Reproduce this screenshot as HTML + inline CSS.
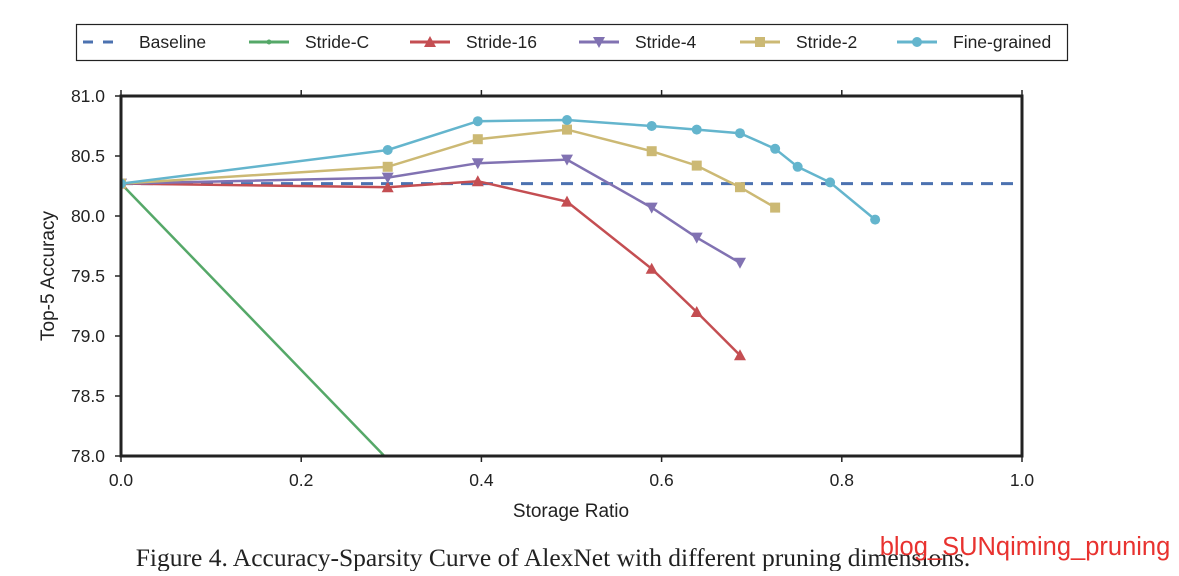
<!DOCTYPE html>
<html><head><meta charset="utf-8"><style>
body{margin:0;background:#fff;width:1179px;height:571px;overflow:hidden}
svg text{font-family:"Liberation Sans",sans-serif;fill:#222}
</style></head><body>
<svg id="chart" width="1179" height="571" xmlns="http://www.w3.org/2000/svg">
<g id="legend">
<rect x="76.5" y="24.5" width="991" height="36" fill="#fff" stroke="#222" stroke-width="1.2"/>
</g>
<g id="grid"></g>
<g id="series"></g>
<rect x="121" y="96" width="901" height="360" fill="none" stroke="#222" stroke-width="3"/>
<text x="571" y="517" text-anchor="middle" font-size="19">Storage Ratio</text>
<text x="0" y="0" text-anchor="middle" font-size="19" transform="translate(54,276) rotate(-90)">Top-5 Accuracy</text>
<text x="553" y="566" text-anchor="middle" font-size="25.5" style="font-family:'Liberation Serif',serif">Figure 4. Accuracy-Sparsity Curve of AlexNet with different pruning dimensions.</text>
<text x="1025" y="555" text-anchor="middle" font-size="25.5" style="fill:#e8322f">blog_SUNqiming_pruning</text>
</svg>
<script>
const xTicks=[0,0.2,0.4,0.6,0.8,1.0];
const yTicks=[78.0,78.5,79.0,79.5,80.0,80.5,81.0];
const baseline=80.27;
const fineX=[0,0.296,0.396,0.495,0.589,0.639,0.687,0.726,0.751,0.787,0.837];
const fineY=[80.27,80.55,80.79,80.80,80.75,80.72,80.69,80.56,80.41,80.28,79.97];
const s2X=[0,0.296,0.396,0.495,0.589,0.639,0.687,0.726];
const s2Y=[80.27,80.41,80.64,80.72,80.54,80.42,80.24,80.07];
const s4X=[0,0.296,0.396,0.495,0.589,0.639,0.687];
const s4Y=[80.27,80.32,80.44,80.47,80.07,79.82,79.61];
const s16X=[0,0.296,0.396,0.495,0.589,0.639,0.687];
const s16Y=[80.27,80.24,80.29,80.12,79.56,79.20,78.84];
const sCX=[0,0.3];
const sCY=[80.27,77.94];
const NS="http://www.w3.org/2000/svg";
const X=v=>121+901*v, Y=v=>456-(v-78)*120;
function mk(t,a,p){const e=document.createElementNS(NS,t);for(const k in a)e.setAttribute(k,a[k]);p.appendChild(e);return e;}
const grid=document.getElementById('grid');
xTicks.forEach(t=>{
 const l=mk('line',{x1:X(t),x2:X(t),y1:456,y2:462,stroke:'#222','stroke-width':1.5},grid);
 
 
 const l2=mk('line',{x1:X(t),x2:X(t),y1:90,y2:96,stroke:'#222','stroke-width':1.5},grid);
 
 
 const tx=mk('text',{x:X(t),y:486,'text-anchor':'middle','font-size':17.5},grid);tx.textContent=t.toFixed(1);
 
 
});
yTicks.forEach(t=>{
 const l=mk('line',{x1:115,x2:121,y1:Y(t),y2:Y(t),stroke:'#222','stroke-width':1.5},grid);
 
 
 const tx=mk('text',{x:105,y:Y(t)+6,'text-anchor':'end','font-size':17.5},grid);tx.textContent=t.toFixed(1);
 
 
});
const S=document.getElementById('series');
mk('clipPath',{id:'cp'},S).appendChild(document.createElementNS(NS,'rect'));
const cr=S.querySelector('#cp rect');cr.setAttribute('x',121);cr.setAttribute('y',96);cr.setAttribute('width',901);cr.setAttribute('height',360);
const bl=mk('line',{x1:X(0),x2:X(1),y1:Y(baseline),y2:Y(baseline),stroke:'#4c72b0','stroke-width':3,'stroke-dasharray':'12,8'},S);


function marker(type,x,y,c,g){
 if(type==='circle')return mk('circle',{cx:x,cy:y,r:5,fill:c},g);
 if(type==='square')return mk('rect',{x:x-5,y:y-5,width:10,height:10,fill:c},g);
 if(type==='up')return mk('polygon',{points:`${x},${y-6} ${x-6},${y+5} ${x+6},${y+5}`,fill:c},g);
 if(type==='down')return mk('polygon',{points:`${x},${y+6} ${x-6},${y-5} ${x+6},${y-5}`,fill:c},g);
 return null;
}
const series=[
 ['stride-c',sCX,sCY,'#55a868',null],
 ['stride-16',s16X,s16Y,'#c44e52','up'],
 ['stride-4',s4X,s4Y,'#8172b2','down'],
 ['stride-2',s2X,s2Y,'#ccb974','square'],
 ['fine-grained',fineX,fineY,'#64b5cd','circle']];
series.forEach(([n,xs,ys,c,m])=>{
 const g=mk('g',{'clip-path':'url(#cp)'},S);
 
 
 mk('polyline',{points:xs.map((x,i)=>X(x)+','+Y(ys[i])).join(' '),fill:'none',stroke:c,'stroke-width':2.5},g);
 if(m)xs.forEach((x,i)=>{const e=marker(m,X(x),Y(ys[i]),c,g);
  
  });
});
const L=document.getElementById('legend');
const leg=[['Baseline','#4c72b0',null,true,139],['Stride-C','#55a868','star',false,305],['Stride-16','#c44e52','up',false,466],['Stride-4','#8172b2','down',false,635],['Stride-2','#ccb974','square',false,796],['Fine-grained','#64b5cd','circle',false,953]];
leg.forEach(([t,c,m,d,tx0])=>{
 const g=mk('g',{},L);
 
 
 const x0=tx0-56;
 mk('line',{x1:x0,x2:x0+40,y1:42,y2:42,stroke:c,'stroke-width':3,'stroke-dasharray':d?'10,10':'none'},g);
 if(m==='star')mk('circle',{cx:x0+20,cy:42,r:2.5,fill:c},g);else if(m)marker(m,x0+20,42,c,g);
 const tx=mk('text',{x:tx0,y:48,'font-size':17.5},g);tx.textContent=t;
});
</script>
</body></html>
